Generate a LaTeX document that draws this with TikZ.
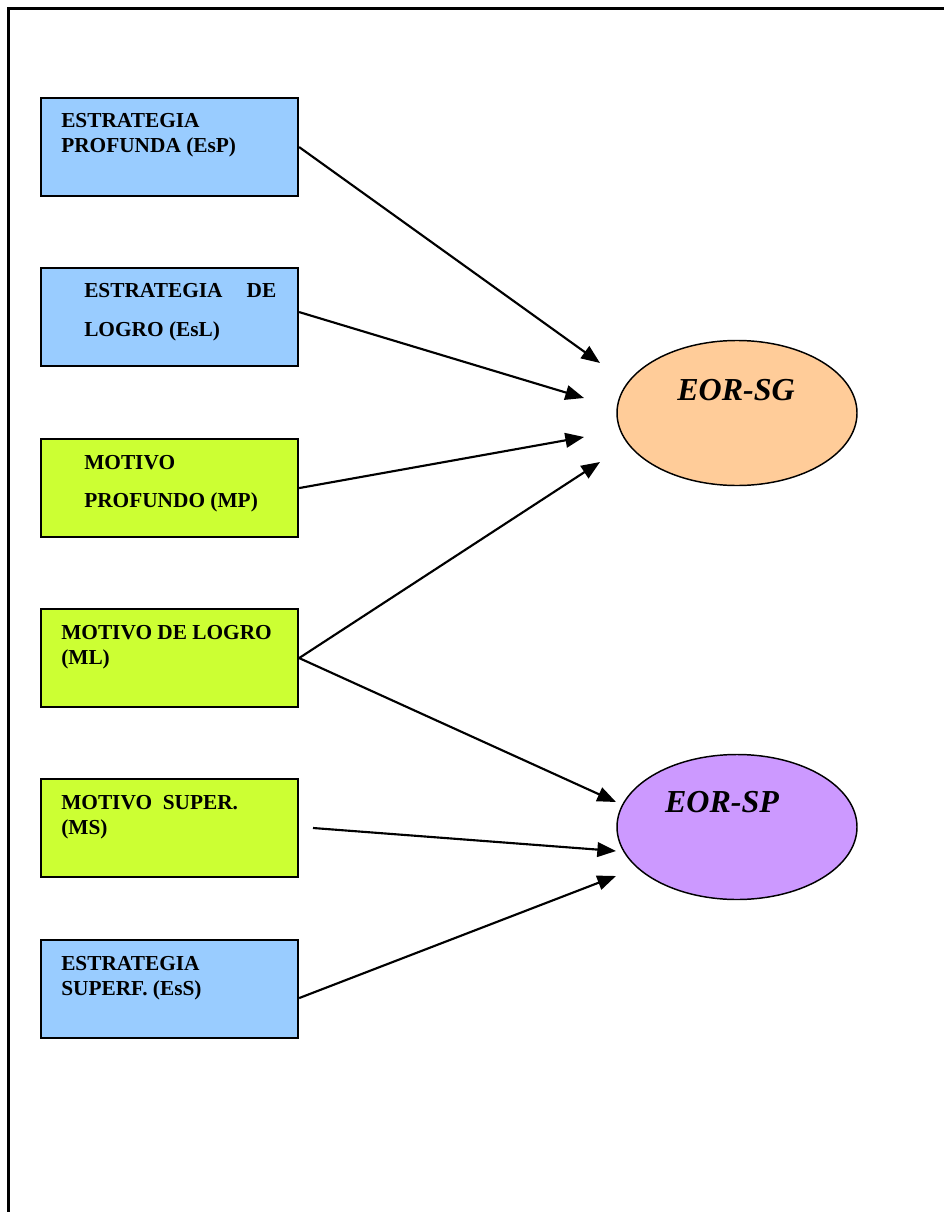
\documentclass[tikz,border=0pt]{standalone}
\usepackage{fontspec}
\setmainfont{Liberation Serif}
\usetikzlibrary{arrows.meta,shapes.geometric}
\definecolor{boxblue}{HTML}{99CCFF}
\definecolor{boxgreen}{HTML}{CCFF33}
\definecolor{ellorange}{HTML}{FFCC99}
\definecolor{ellviolet}{HTML}{CC99FF}
\tikzset{
  factor/.style={draw=black, line width=1.6pt, minimum width=192.75pt,
    minimum height=73.5pt, inner sep=0pt, anchor=north west},
  bluebox/.style={factor, fill=boxblue},
  greenbox/.style={factor, fill=boxgreen},
  label/.style={anchor=base west, inner sep=0pt, align=left,
    font=\fontsize{16}{18.75}\selectfont\bfseries},
  widelabel/.style={label, font=\fontsize{16}{28.5}\selectfont\bfseries},
  outcome/.style={ellipse, draw=black, line width=1.1pt, minimum width=180pt,
    minimum height=108.75pt, inner sep=0pt},
  outlabel/.style={anchor=base, inner sep=0pt,
    font=\fontsize{24}{28}\selectfont\bfseries\itshape},
  link/.style={line width=1.6pt, -{Triangle[length=14pt,width=11pt]}}
}
\begin{document}
\begin{tikzpicture}[x=0.75pt, y=-0.75pt]
  \useasboundingbox (0,0) rectangle (944,1212);
  % page frame (left and top edges)
  \draw[line width=1.6pt] (8.5,1212) -- (8.5,8.5) -- (944,8.5);

  % factor boxes
  \node[bluebox]  (b1) at (40,97)  {};
  \node[bluebox]  (b2) at (40,267) {};
  \node[greenbox] (b3) at (40,438) {};
  \node[greenbox] (b4) at (40,608) {};
  \node[greenbox] (b5) at (40,778) {};
  \node[bluebox]  (b6) at (40,939) {};

  % labels, placed by the baseline of their last line
  \node[label] (t1) at (61,153) {ESTRATEGIA\\PROFUNDA (EsP)};
  \node[widelabel] (t2) at (84,336) {\makebox[144pt][l]{ESTRATEGIA\hfill DE}\\LOGRO (EsL)};
  \node[widelabel] (t3) at (84,507) {MOTIVO\\PROFUNDO (MP)};
  \node[label] (t4) at (61,664) {MOTIVO DE LOGRO\\(ML)};
  \node[label] (t5) at (61,834) {MOTIVO\ \ SUPER.\\(MS)};
  \node[label] (t6) at (61,995) {ESTRATEGIA\\SUPERF. (EsS)};

  % outcome ellipses
  \node[outcome, fill=ellorange] (sg) at (737,413) {};
  \node[outcome, fill=ellviolet] (sp) at (737,827) {};
  \node[outlabel] (lsg) at (736,400) {EOR-SG};
  \node[outlabel] (lsp) at (722,812) {EOR-SP};

  % arrow start and end points
  \coordinate (s2) at ([yshift=3.75pt]b2.east);
  \coordinate (s5) at (313,828);
  \coordinate (s6) at ([yshift=-6.75pt]b6.east);
  \coordinate (e1) at (600,363);
  \coordinate (e2) at (584,398);
  \coordinate (e3) at (584,437);
  \coordinate (e4) at (600,462);
  \coordinate (e5) at (616,802);
  \coordinate (e6) at (616,851);
  \coordinate (e7) at (616,876);

  \draw[link] (b1.east) -- (e1);
  \draw[link] (s2) -- (e2);
  \draw[link] (b3.east) -- (e3);
  \draw[link] (b4.east) -- (e4);
  \draw[link] (b4.east) -- (e5);
  \draw[link] (s5) -- (e6);
  \draw[link] (s6) -- (e7);
\end{tikzpicture}
\end{document}
